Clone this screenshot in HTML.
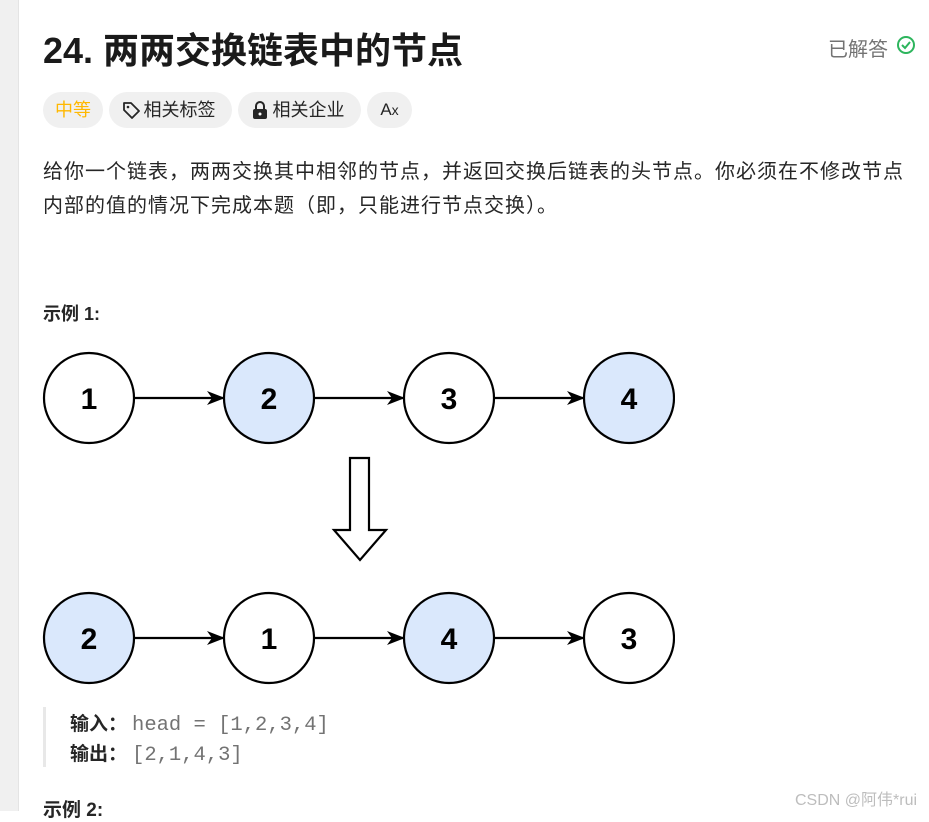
<!DOCTYPE html>
<html><head><meta charset="utf-8"><style>
*{margin:0;padding:0;box-sizing:border-box}
body{width:929px;height:811px;overflow:hidden;background:#fff;font-family:"Liberation Sans","Noto Sans CJK SC",sans-serif;color:#262626;position:relative}
.strip{position:absolute;left:0;top:0;width:19px;height:811px;background:#f0f0f0;border-right:1px solid #e4e4e4}
.abs{position:absolute;white-space:nowrap}
h1{position:absolute;left:43px;top:22px;font-size:36px;font-weight:bold;color:#1a1a1a;letter-spacing:0px}
.pill{position:absolute;top:92px;height:36px;border-radius:18px;background:#f0f0f0;font-size:18px;line-height:36px;text-align:center;color:#262626}
.desc{position:absolute;left:43px;font-size:20px;letter-spacing:1px;color:#262626;white-space:nowrap}
</style></head><body>
<div class="strip"></div>
<h1>24. 两两交换链表中的节点</h1>
<div class="abs" style="left:828px;top:33px;font-size:20px;color:#737373">已解答</div>
<svg class="abs" style="left:896px;top:35px" width="20" height="20" viewBox="0 0 20 20"><circle cx="10" cy="10" r="8" fill="none" stroke="#2db55d" stroke-width="2"/><path d="M6 10l3 3 5-6" fill="none" stroke="#2db55d" stroke-width="2"/></svg>
<div class="pill" style="left:43px;width:60px;color:#ffb800">中等</div>
<div class="pill" style="left:109px;width:123px;padding-left:18px">相关标签</div>
<svg class="abs" style="left:121px;top:100px" width="20" height="20" viewBox="0 0 20 20"><path d="M3 3h7l8 8-7 7-8-8z" fill="none" stroke="#262626" stroke-width="1.8" stroke-linejoin="round"/><circle cx="7" cy="7" r="1.3" fill="#262626"/></svg>
<div class="pill" style="left:238px;width:123px;padding-left:18px">相关企业</div>
<svg class="abs" style="left:251px;top:100px" width="18" height="20" viewBox="0 0 18 20"><path d="M5 9V6a4 4 0 0 1 8 0v3" fill="none" stroke="#262626" stroke-width="2"/><rect x="2" y="9" width="14" height="10" rx="2" fill="#262626"/><circle cx="9" cy="14" r="1.5" fill="#fff"/></svg>
<div class="pill" style="left:367px;width:45px;font-size:17px">A<span style="font-size:14px">x</span></div>
<div class="desc" style="top:155px">给你一个链表，两两交换其中相邻的节点，并返回交换后链表的头节点。你必须在不修改节点</div>
<div class="desc" style="top:189px">内部的值的情况下完成本题（即，只能进行节点交换）。</div>
<div class="abs" style="left:43px;top:300px;font-size:18px;font-weight:bold">示例 1:</div>
<svg class="abs" style="left:0;top:0" width="929" height="811">
<defs><marker id="a" markerWidth="18" markerHeight="14" refX="17" refY="7" orient="auto" markerUnits="userSpaceOnUse"><path d="M0 0L18 7L0 14L5 7z" fill="#000"/></marker></defs>
<g stroke="#000" stroke-width="2.2" font-family="Liberation Sans,sans-serif" font-weight="bold" font-size="30" text-anchor="middle">
<line x1="134" y1="398" x2="224" y2="398" marker-end="url(#a)"/>
<line x1="314" y1="398" x2="404" y2="398" marker-end="url(#a)"/>
<line x1="494" y1="398" x2="584" y2="398" marker-end="url(#a)"/>
<line x1="134" y1="638" x2="224" y2="638" marker-end="url(#a)"/>
<line x1="314" y1="638" x2="404" y2="638" marker-end="url(#a)"/>
<line x1="494" y1="638" x2="584" y2="638" marker-end="url(#a)"/>
<circle cx="89" cy="398" r="45" fill="#fff"/>
<circle cx="269" cy="398" r="45" fill="#dae8fc"/>
<circle cx="449" cy="398" r="45" fill="#fff"/>
<circle cx="629" cy="398" r="45" fill="#dae8fc"/>
<circle cx="89" cy="638" r="45" fill="#dae8fc"/>
<circle cx="269" cy="638" r="45" fill="#fff"/>
<circle cx="449" cy="638" r="45" fill="#dae8fc"/>
<circle cx="629" cy="638" r="45" fill="#fff"/>
<path d="M350 458h19v72h17l-26 30-26-30h16z" fill="#fff"/>
<g stroke="none" fill="#000">
<text x="89" y="409">1</text><text x="269" y="409">2</text><text x="449" y="409">3</text><text x="629" y="409">4</text>
<text x="89" y="649">2</text><text x="269" y="649">1</text><text x="449" y="649">4</text><text x="629" y="649">3</text>
</g></g>
<rect x="675" y="340" width="20" height="360" fill="#fff"/>
</svg>
<div class="abs" style="left:43px;top:707px;width:3px;height:60px;background:#e8e8e8"></div>
<div class="abs" style="left:70px;top:709px;font-size:19px"><b>输入：</b><span style="font-family:'Liberation Mono',monospace;color:#737373;font-size:20.5px;margin-left:5px">head = [1,2,3,4]</span></div>
<div class="abs" style="left:70px;top:739px;font-size:19px"><b>输出：</b><span style="font-family:'Liberation Mono',monospace;color:#737373;font-size:20.5px;margin-left:5px">[2,1,4,3]</span></div>
<div class="abs" style="left:43px;top:795px;font-size:19px;font-weight:bold">示例 2:</div>
<div class="abs" style="left:795px;top:786px;font-size:16px;color:#bdbdbd">CSDN @阿伟*rui</div>
</body></html>
